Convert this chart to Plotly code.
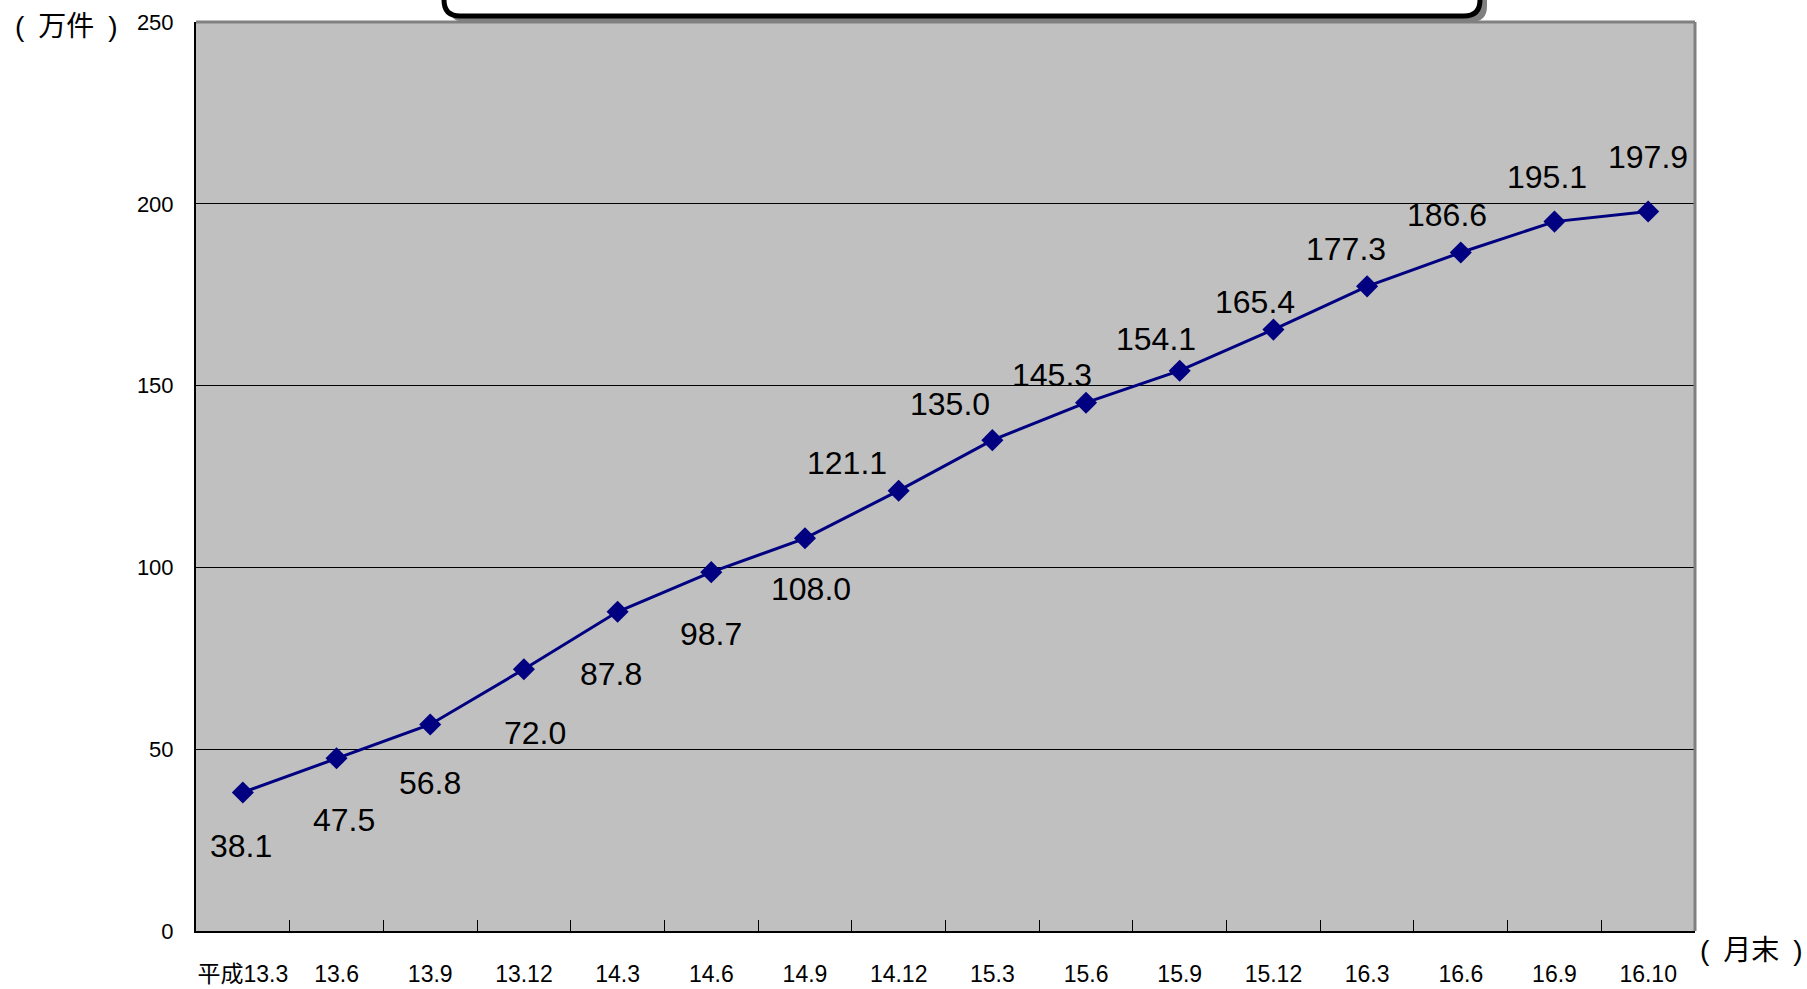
import plotly.graph_objects as go

categories = ["平成13.3", "13.6", "13.9", "13.12", "14.3", "14.6", "14.9", "14.12",
              "15.3", "15.6", "15.9", "15.12", "16.3", "16.6", "16.9", "16.10"]
values = [38.1, 47.5, 56.8, 72.0, 87.8, 98.7, 108.0, 121.1,
          135.0, 145.3, 154.1, 165.4, 177.3, 186.6, 195.1, 197.9]
y_ticks = [0, 50, 100, 150, 200, 250]

# label offsets in pixels (dx, dy with +dy upward)
label_dx = [-2, 7, 0, 11, -7, 0, 6, -52, -42, -34, -24, -18, -21, -14, -7, 0]
label_dy = [-54, -62, -59, -64, -62, -62, -51, 28, 36, 28, 32, 28, 37, 38, 45, 54]

W, H = 1807, 989
L, R, T, B = 196, 1695, 22, 931
FONT = "Liberation Sans, Arial, Noto Sans CJK JP, sans-serif"

fig = go.Figure()
fig.add_trace(go.Scatter(
    x=categories, y=values, mode="lines+markers",
    line=dict(color="#000080", width=3),
    marker=dict(symbol="diamond", size=17, color="#000080"),
    hoverinfo="x+y", showlegend=False, cliponaxis=False,
))

for i, (v, dx, dy) in enumerate(zip(values, label_dx, label_dy)):
    fig.add_annotation(x=i, y=v, text=f"{v:.1f}", showarrow=False,
                       xshift=dx, yshift=dy,
                       font=dict(size=32, color="black", family=FONT))

def px(x):
    return (x - L) / (R - L)

def py(y):
    return (B - y) / (B - T)

def rounded(x0, y0, x1, y1, r):
    # pixel coords, y downward
    pts = [
        f"M {px(x0 + r)} {py(y0)}",
        f"L {px(x1 - r)} {py(y0)}",
        f"Q {px(x1)} {py(y0)} {px(x1)} {py(y0 + r)}",
        f"L {px(x1)} {py(y1 - r)}",
        f"Q {px(x1)} {py(y1)} {px(x1 - r)} {py(y1)}",
        f"L {px(x0 + r)} {py(y1)}",
        f"Q {px(x0)} {py(y1)} {px(x0)} {py(y1 - r)}",
        f"L {px(x0)} {py(y0 + r)}",
        f"Q {px(x0)} {py(y0)} {px(x0 + r)} {py(y0)}",
        "Z",
    ]
    return " ".join(pts)

shapes = [
    # top & right gray border
    dict(type="line", xref="paper", yref="paper", x0=0, x1=1, y0=1, y1=1,
         line=dict(color="#808080", width=3), layer="above"),
    dict(type="line", xref="paper", yref="paper", x0=1, x1=1, y0=0, y1=1,
         line=dict(color="#808080", width=3), layer="above"),
    # box shadow
    dict(type="path", xref="paper", yref="paper", path=rounded(449, -40, 1487, 22, 16),
         fillcolor="#808080", line=dict(width=0), layer="above"),
    # box
    dict(type="path", xref="paper", yref="paper", path=rounded(444, -40, 1480, 16, 16),
         fillcolor="white", line=dict(color="black", width=5), layer="above"),
]

fig.add_annotation(xref="paper", yref="paper", x=px(66), y=py(27),
                   xanchor="center", yanchor="middle",
                   text="(\u2002万件\u2002)", showarrow=False,
                   font=dict(size=28, color="black", family=FONT))
fig.add_annotation(xref="paper", yref="paper", x=px(1751), y=py(950),
                   xanchor="center", yanchor="middle",
                   text="(\u2002月末\u2002)", showarrow=False,
                   font=dict(size=28, color="black", family=FONT))

fig.update_layout(
    width=W, height=H,
    margin=dict(l=L, r=W - R, t=T, b=H - B, autoexpand=False),
    paper_bgcolor="white", plot_bgcolor="#C0C0C0",
    shapes=shapes,
    font=dict(family=FONT, color="black"),
)
fig.update_xaxes(
    type="category", range=[-0.5, len(categories) - 0.5],
    showgrid=False, showline=True, linecolor="black", linewidth=2,
    ticks="inside", ticklen=11, tickcolor="black", tickwidth=1,
    tickson="boundaries", tickfont=dict(size=23, color="black", family=FONT),
    tickangle=0, automargin=False,
    ticklabelstandoff=21, zeroline=False,
)
fig.update_yaxes(
    range=[0, 250], tickvals=y_ticks, ticktext=[str(t) for t in y_ticks],
    showgrid=True, gridcolor="black", gridwidth=1,
    showline=True, linecolor="black", linewidth=2,
    ticks="inside", ticklen=10, tickcolor="black",
    tickfont=dict(size=22, color="black", family=FONT),
    automargin=False,
    ticklabelstandoff=16, zeroline=False,
)

fig.write_html("out.html")
